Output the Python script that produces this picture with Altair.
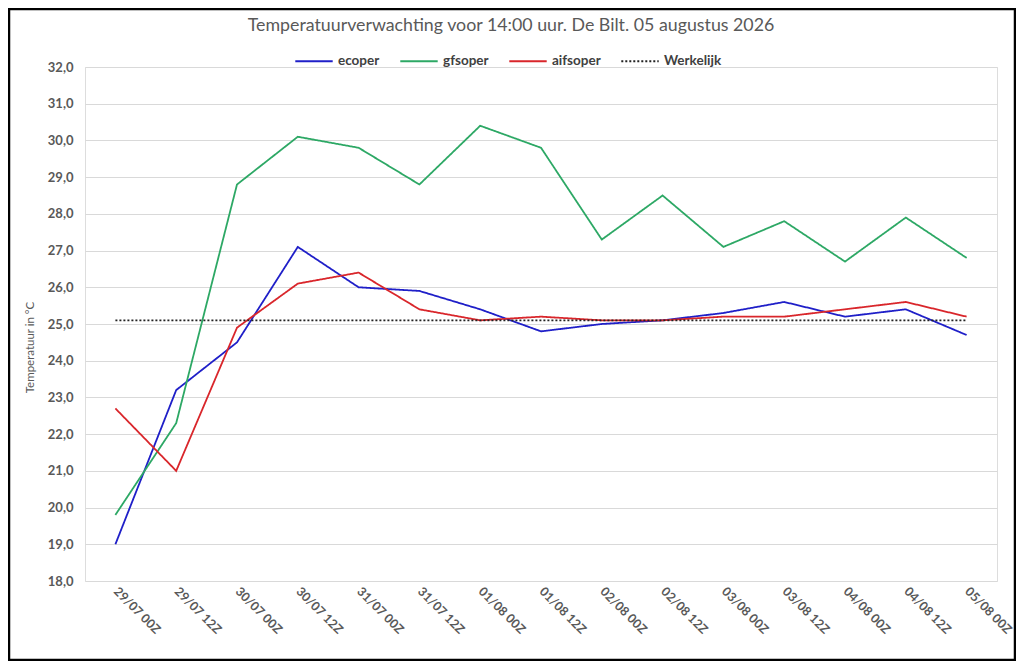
import altair as alt
import pandas as pd

times = ["29/07 00Z", "29/07 12Z", "30/07 00Z", "30/07 12Z", "31/07 00Z", "31/07 12Z",
         "01/08 00Z", "01/08 12Z", "02/08 00Z", "02/08 12Z", "03/08 00Z", "03/08 12Z",
         "04/08 00Z", "04/08 12Z", "05/08 00Z"]
ecoper = [19.0, 23.2, 24.5, 27.1, 26.0, 25.9, 25.4, 24.8, 25.0, 25.1, 25.3, 25.6, 25.2, 25.4, 24.7]
gfsoper = [19.8, 22.3, 28.8, 30.1, 29.8, 28.8, 30.4, 29.8, 27.3, 28.5, 27.1, 27.8, 26.7, 27.9, 26.8]
aifsoper = [22.7, 21.0, 24.9, 26.1, 26.4, 25.4, 25.1, 25.2, 25.1, 25.1, 25.2, 25.2, 25.4, 25.6, 25.2]
werkelijk = [25.1] * 15

title_text = "Temperatuurverwachting voor 14:00 uur. De Bilt. 05 augustus 2026"
series_names = ["ecoper", "gfsoper", "aifsoper", "Werkelijk"]
series_colors = ["#1F1FC8", "#2DA865", "#D9262B", "#222222"]
series_dash = [[1, 0], [1, 0], [1, 0], [2, 2]]

rows = []
for name, vals in zip(series_names, [ecoper, gfsoper, aifsoper, werkelijk]):
    for t, v in zip(times, vals):
        rows.append({"tijd": t, "temp": v, "model": name})
df = pd.DataFrame(rows)

W, H = 912, 514
PL, PT, PR, PB = 77, 59, 19, 80
FONT = "Lato"

lines = alt.Chart(df).mark_line(strokeWidth=1.8).encode(
    x=alt.X("tijd:O", sort=times, title=None,
            scale=alt.Scale(type="point", padding=0.5),
            axis=alt.Axis(labelAngle=45, labelAlign="left", labelBaseline="middle",
                          domain=False, ticks=False, grid=False, labelPadding=8,
                          labelFontSize=12.5, labelFontWeight="bold", labelColor="#595959",
                          labelFont=FONT)),
    y=alt.Y("temp:Q", title="Temperatuur in °C",
            scale=alt.Scale(domain=[18, 32], nice=False, zero=False),
            axis=alt.Axis(values=list(range(18, 33)),
                          labelExpr="replace(format(datum.value, '.1f'), '.', ',')",
                          domain=False, ticks=False, gridColor="#D9D9D9", gridWidth=1,
                          labelFontSize=13, labelFontWeight="bold", labelColor="#595959",
                          labelPadding=12, labelFont=FONT,
                          titleFontSize=11.5, titleFontWeight="normal", titleColor="#595959",
                          titleFont=FONT, titlePadding=12, titleY=280)),
    color=alt.Color("model:N", sort=series_names,
                    scale=alt.Scale(domain=series_names, range=series_colors),
                    legend=alt.Legend(title=None, orient="none", direction="horizontal",
                                      legendX=209, legendY=-26, symbolType="stroke",
                                      symbolSize=1400, symbolStrokeWidth=2,
                                      labelFontSize=13.5, labelFontWeight="bold",
                                      labelColor="#404040", labelFont=FONT,
                                      columnPadding=16, labelOffset=4)),
    strokeDash=alt.StrokeDash("model:N", sort=series_names,
                              scale=alt.Scale(domain=series_names, range=series_dash),
                              legend=None),
)

title = alt.Chart(pd.DataFrame({"t": [title_text]})).mark_text(
    font=FONT, fontSize=17.8, color="#595959", align="center", baseline="middle"
).encode(text="t:N", x=alt.value(426), y=alt.value(-41))

border = alt.Chart(pd.DataFrame({"a": [0]})).mark_rect(
    fill=None, stroke="black", strokeWidth=2.5
).encode(
    x=alt.value(-PL + 1), x2=alt.value(W + PR - 1),
    y=alt.value(-PT + 1), y2=alt.value(H + PB - 1),
)

chart = alt.layer(lines, title, border).properties(
    width=W, height=H,
    padding={"left": PL, "top": PT, "right": PR, "bottom": PB},
    autosize=alt.AutoSizeParams(type="none"),
).configure_view(stroke=None).configure(background="white")

chart.save("out.html", embed_options={"renderer": "svg", "actions": False})
